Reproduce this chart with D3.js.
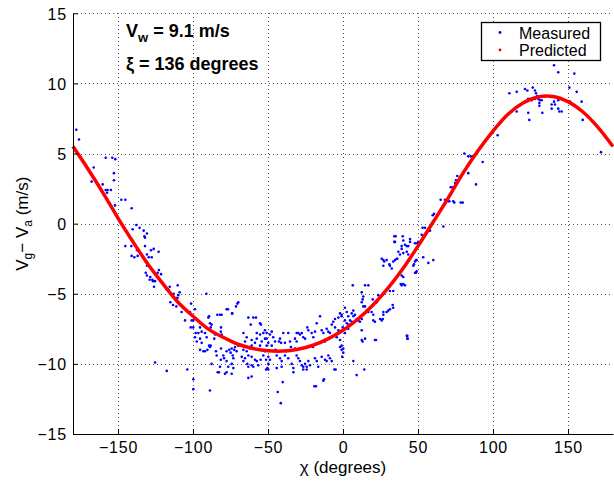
<!DOCTYPE html>
<html>
<head>
<meta charset="utf-8">
<script src="https://cdn.jsdelivr.net/npm/d3@7"></script>
<style>
  body { margin: 0; background: #fff; }
  text { font-family: "Liberation Sans", Arial, Helvetica, sans-serif; }
</style>
</head>
<body>
<div id="chart"></div>
<script>
const width = 614;
const height = 482;

const xTicks = [-150, -100, -50, 0, 50, 100, 150];
const yTicks = [-15, -10, -5, 0, 5, 10, 15];

// predicted curve, read every 10 degrees
const predictedChi = d3.range(-180, 181, 10);
const predictedDv = [5.5, 3.9, 2.2, 0.4, -1.3, -2.9, -4.3, -5.6, -6.6, -7.5, -8.1, -8.6, -8.9,
  -9.07, -9.09, -8.96, -8.67, -8.22, -7.6, -6.8, -5.8, -4.6, -3.2, -1.6, 0.1, 1.8, 3.6,
  5.2, 6.6, 7.8, 8.6, 9.03, 9.07, 8.7, 7.96, 6.87, 5.5];

// measured points [chi, Vg - Va]
const measured = [
  [-177.8,6.7],[-176,6.0],[-158.2,4.7],[-153.8,4.7],[-151.8,4.6],[-166.2,4.0],[-152.7,3.6],[-152.7,3.1],
  [-167.6,3.0],[-160.2,2.8],[-158.2,2.4],[-156.9,2.4],[-154.7,2.4],[-157.3,2.2],[-147.8,1.7],[-145.1,1.7],
  [-152,1.3],[-140.9,1.1],[-140.2,-0.4],[-137.8,-0.1],[-135.6,-0.3],[-132.9,-0.5],[-130.7,-0.7],[-132.4,-0.9],
  [-132,-1.0],[-145.1,-1.6],[-141.1,-1.6],[-138.9,-1.5],[-138.2,-1.6],[-132,-1.6],[-140.9,-2.3],[-139.1,-2.4],
  [-136.9,-2.3],[-137.3,-1.9],[-130.7,-2.2],[-129.5,-2.4],[-127.5,-2.4],[-128,-1.9],[-126.2,-1.8],[-122.9,-2.0],
  [-131.5,-2.7],[-130.7,-3.0],[-122.7,-3.3],[-123.5,-3.5],[-121.3,-3.6],[-131.5,-3.5],[-130.7,-3.7],[-128.5,-3.8],
  [-127.1,-4.0],[-128.9,-4.0],[-126.7,-4.1],[-125.3,-4.1],[-120.4,-4.2],[-126,-4.5],[-118.2,-4.5],[-115.5,-4.5],
  [-116.4,-4.7],[-110.2,-4.4],[-112.9,-5.0],[-108.9,-4.9],[-109.8,-5.1],[-110.7,-5.3],[-115.1,-5.6],[-113.3,-5.8],
  [-111.1,-5.9],[-101.3,-5.7],[-98.7,-6.1],
  [-117.5,-4.7],[-110.4,-5.3],[-107.6,-6.3],[-105.3,-6.9],[-102,-6.3],[-100.9,-6.9],[-99.8,-7.4],[-91.1,-5.0],
  [-89.8,-6.7],[-70.4,-5.7],[-71.3,-5.9],[-76.7,-6.1],[-74,-6.4],[-82,-6.5],[-63.1,-6.7],[-59.8,-6.7],[-58,-6.7],
  [-125.3,-9.9],[-117.5,-10.5],[-103.8,-10.4],[-99.8,-11.1],[-99.8,-11.8],[-88.7,-11.9],[-43.5,-12.0],[-41.5,-12.8],
  [-40.2,-11.3],[-63.1,-11.0],[-60.9,-10.9],[-49.8,-10.4],[-33.1,-10.6],[-19.1,-11.6],[-83.5,-10.6],
  [-69.8,-5.6],[-83.8,-6.5],[-80.9,-6.5],[-77.6,-6.1],[-73.8,-6.4],[-89.3,-6.6],[-88.7,-7.1],[-87.6,-7.2],
  [-88.2,-7.4],[-99.8,-6.9],[-101.5,-7.4],[-95.3,-7.4],[-98.2,-7.8],[-96.4,-7.8],[-94.2,-7.7],[-92,-7.8],
  [-90.9,-8.1],[-97.5,-8.4],[-95.3,-8.2],[-94.2,-8.5],[-98.7,-8.1],[-81.3,-7.4],[-81.5,-7.7],[-80.9,-7.9],
  [-85.3,-7.9],[-85.8,-8.2],[-89.3,-8.7],[-88.7,-8.8],[-88.2,-8.7],[-90.4,-9.0],[-95.3,-9.0],[-93.1,-9.1],
  [-92,-9.1],[-84.7,-9.1],[-81.3,-8.9],[-79.8,-9.4],[-79.3,-9.6],[-84.2,-9.4],[-81.5,-9.7],[-77.6,-9.1],
  [-75.8,-9.0],[-74.9,-9.2],[-74.2,-8.9],[-72,-8.8],[-72.5,-9.0],[-70.9,-9.1],[-73.5,-9.4],[-73.1,-9.6],
  [-77.6,-9.8],[-76.5,-10.2],[-74.2,-10.0],[-73.1,-10.3],[-82,-10.2],[-87.6,-10.0],[-82.7,-10.6],[-77.6,-10.6],
  [-78.7,-10.7],[-74.2,-10.7],[-69.8,-8.7],[-66.4,-7.8],[-65.3,-8.4],[-64.2,-8.1],[-61.5,-7.2],[-55.3,-7.1],
  [-54.7,-7.2],[-57.5,-7.8],[-55.3,-7.9],[-53.1,-7.8],[-50.9,-7.8],[-60.9,-8.3],[-57.5,-8.2],[-54.2,-8.4],
  [-52,-8.2],[-60.9,-8.7],[-58.7,-8.5],[-55.3,-8.7],[-50.9,-8.7],[-66.4,-9.0],[-64.2,-9.1],[-62,-8.9],
  [-67.5,-9.5],[-65.3,-9.6],[-63.1,-9.4],[-60.9,-9.5],[-58.7,-9.7],[-66.4,-9.8],[-63.8,-10.0],[-60.9,-10.1],
  [-57.5,-9.8],[-63.1,-10.2],[-59.8,-10.2],[-56.5,-10.1],[-53.1,-9.4],[-51.3,-9.7],[-50.4,-10.3],[-54.9,-9.7],
  [-52,-7.6],[-50.9,-8.2],[-48.7,-7.9],[-47.5,-7.7],[-46.5,-8.1],[-45.3,-8.4],[-49.8,-8.5],[-47.5,-8.7],
  [-42,-8.2],[-42.7,-8.4],[-41.3,-8.5],[-39.8,-7.8],[-38.7,-8.5],[-36.5,-7.8],[-35.3,-8.4],[-34.7,-8.8],
  [-30.9,-7.8],[-29.8,-7.8],[-28.7,-7.9],[-32,-8.2],[-30.9,-8.4],[-27.5,-7.8],[-26.5,-8.1],[-25.3,-8.2],
  [-23.8,-7.4],[-23.1,-7.6],[-20.9,-7.8],[-19.8,-8.1],[-17.5,-7.1],[-18.7,-7.7],[-15.3,-6.6],[-14.2,-7.6],
  [-13.1,-7.8],[-10.9,-7.5],[-9.8,-7.7],[-7.5,-7.2],[-6.5,-7.0],[-5.3,-6.8],[-3.1,-6.7],[-2,-6.4],[-0.9,-6.5],
  [-8.7,-7.8],[-4.2,-8.1],[-5.3,-7.4],[-3.1,-7.6],[-52,-9.1],[-49.8,-9.5],[-48.7,-9.7],[-44.2,-9.4],[-42,-9.6],
  [-40.9,-9.8],[-44.2,-10.3],[-40.9,-10.2],[-38.7,-9.4],[-36.5,-9.6],[-34.2,-10.0],[-33.1,-10.3],[-30.9,-9.4],
  [-29.8,-9.6],[-28.7,-9.8],[-27.5,-10.1],[-26.5,-10.2],[-25.3,-10.0],[-24.2,-10.2],[-23.1,-9.8],[-22,-10.1],
  [-26.5,-10.4],[-24.2,-10.4],[-18.7,-9.6],[-17.5,-9.8],[-16.5,-10.2],[-14.2,-9.5],[-12,-9.7],[-10.9,-9.8],
  [-9.8,-9.4],[-8.7,-9.6],[-7.5,-9.8],[-4.9,-10.4],[0.2,-8.9],[-0.5,-9.5],[-2,-8.3],[-0.9,-8.7],[-13.1,-11.2],
  [-49.8,-10.0],[-51.3,-10.4],[-45,-9.0],[-38,-9.1],[-32,-8.9],[-20,-8.8],[-15,-8.5],[-12,-8.4],
  [1.3,-6.0],[2.5,-6.3],[3.5,-6.6],[4.7,-6.9],[5.8,-7.0],[6.9,-6.6],[8,-6.5],[9.1,-6.8],[10.2,-6.9],[11.3,-7.0],
  [12.5,-6.8],[5.8,-6.4],[6.9,-6.2],[6.5,-4.4],[12.5,-4.9],[13.5,-5.2],[13.1,-5.4],[14.7,-4.4],[16.9,-4.4],
  [14.7,-5.9],[15.8,-6.2],[16.9,-6.3],[19.1,-6.3],[20.2,-6.5],[20.2,-6.9],[21.3,-7.0],[24.7,-6.8],[25.8,-6.9],
  [22.5,-5.6],[23.5,-5.1],[26.9,-6.3],[29.1,-6.3],[30.2,-6.2],[26.9,-6.5],[12.5,-8.3],[14.7,-8.2],[22,-8.3],
  [-2,-8.8],[-0.9,-9.0],[6.9,-9.8],[9.1,-10.8],[14.2,-10.4],[-5.8,-10.4],[-12.7,-11.1],[-18,-11.6],
  [42.9,-8.0],[42.9,-8.2],[33.1,-5.8],[33.5,-6.0],[31.3,-4.8],[39.1,-4.4],[41.3,-4.4],[38,-3.5],[39.1,-3.7],
  [40.2,-3.8],[40.2,-4.3],[38.5,-4.3],[48,-3.5],[49.1,-3.4],[46.9,-3.0],[48,-2.7],[49.1,-2.6],[25.8,-2.5],
  [26.9,-2.6],[29.1,-2.6],[31.3,-3.0],[32.5,-3.2],[33.5,-2.7],[34.7,-2.6],[35.8,-2.5],[36.9,-2.0],[38,-2.2],
  [40.2,-2.1],[42.5,-2.0],[43.5,-2.2],[39.1,-1.6],[41.3,-1.5],[43.5,-1.6],[34.7,-1.3],[40.2,-1.2],[44.7,-1.3],
  [48,-1.4],[50.2,-1.3],[53.5,-2.4],[56.9,-2.8],[60.2,-2.6],
  [59.8,0.6],[60.7,0.7],[53.1,-0.3],[54.7,-0.3],[56.9,-0.5],[58,-0.5],[52.5,-0.8],[34.2,-0.9],[39.8,-0.9],
  [34.2,-1.3],[42.5,-1.6],[39.1,-1.8],[49.5,-1.4],[48.7,-2.6],[47.3,-2.9],[27.5,-2.7],[26.9,-3.0],[30.9,-2.9],
  [36.2,-2.5],[48.7,-3.5],[33.5,-4.8],[19.8,-5.4],[13.5,-5.9],[12.5,-5.6],[31.3,-6.1],[26.5,-6.8],
  [-0.9,-6.6],[1.3,-6.9],[2.5,-7.1],[3.6,-7.2],[-0.2,-7.4],[1.3,-7.8],[3.5,-7.5],[0.2,-9.2],[12.5,-7.6],
  [13.1,-8.4],[21.3,-8.3],[42.5,-8.0],[43.1,-8.2],[44.7,-1.1],[66.9,-0.2],[35.1,-0.9],
  [65.1,1.7],[68,1.7],[70.2,1.6],[70.9,1.6],[73.5,1.6],[74.2,1.5],[78.5,1.5],[79.8,1.5],[71.8,2.6],[73.1,2.6],
  [74.7,2.9],[75.3,3.1],[76.2,3.4],[83.5,3.6],[88.7,2.8],[93.1,4.4],[80.9,5.0],[83.5,4.8],[85.1,4.8],[86.5,4.8],
  [103.1,6.3],[110.9,9.3],[115.8,9.4],[115.8,8.0],[121.3,9.6],[122.9,9.5],[123.5,7.9],[124.2,7.4],[126.5,9.7],
  [128,9.5],[128.7,9.3],[128,8.9],[123.5,8.9],[125.8,8.8],[130.2,8.9],[130.9,8.6],[130.9,8.4],[129.5,9.1],
  [131.3,8.8],[132.5,8.8],[132.9,7.9],[140.7,11.3],[143.5,10.8],[154.2,10.7],[139.1,8.5],[139.1,8.2],
  [140.7,8.7],[141.3,8.5],[143.5,8.8],[143.5,8.2],[144.2,8.0],[145.8,8.0],[150.9,9.7],[155.8,9.4],[151.3,8.7],
  [151.8,8.6],[159.1,8.7],[159.8,7.4],[172,5.1]
];

const x = d3.scaleLinear().domain([-180, 180]).range([73, 613]);
const y = d3.scaleLinear().domain([-15, 15]).range([434, 13.3]);

const svg = d3.select("#chart").append("svg")
    .attr("width", width)
    .attr("height", height);

// grid
const grid = svg.append("g")
    .attr("stroke", "#555")
    .attr("stroke-width", 1)
    .attr("stroke-dasharray", "1,3");
grid.selectAll(".gx")
    .data(xTicks)
  .enter().append("line")
    .attr("x1", d => Math.round(x(d)) + 0.5)
    .attr("x2", d => Math.round(x(d)) + 0.5)
    .attr("y1", y(-15))
    .attr("y2", y(15));
grid.selectAll(".gy")
    .data(yTicks.slice(1))
  .enter().append("line")
    .attr("x1", x(-180))
    .attr("x2", x(180))
    .attr("y1", d => Math.round(y(d)) + 0.5)
    .attr("y2", d => Math.round(y(d)) + 0.5);

// measured points
svg.append("g")
    .attr("fill", "#0000ff")
  .selectAll("circle")
    .data(measured)
  .enter().append("circle")
    .attr("cx", d => x(d[0]))
    .attr("cy", d => y(d[1]))
    .attr("r", 1.3);

// predicted curve
const line = d3.line()
    .x(d => x(d[0]))
    .y(d => y(d[1]))
    .curve(d3.curveCatmullRom);
svg.append("path")
    .datum(d3.zip(predictedChi, predictedDv))
    .attr("fill", "none")
    .attr("stroke", "#ff0000")
    .attr("stroke-width", 3.5)
    .attr("d", line);

// axes
const xAxis = svg.append("g")
    .attr("transform", "translate(0," + y(-15) + ")")
    .call(d3.axisBottom(x).tickValues(xTicks).tickSize(-5).tickPadding(8).tickSizeOuter(0));
const yAxis = svg.append("g")
    .attr("transform", "translate(" + x(-180) + ",0)")
    .call(d3.axisLeft(y).tickValues(yTicks).tickSize(-5).tickPadding(6).tickSizeOuter(0));
[xAxis, yAxis].forEach(a => {
  a.select(".domain").attr("stroke", "#000");
  a.selectAll("text")
      .style("font-size", "16px")
      .style("letter-spacing", "0.8px")
      .attr("fill", "#000");
});
yAxis.selectAll("text").attr("dy", "0.36em");
xAxis.selectAll("text").attr("dy", "0.71em");

// axis labels
svg.append("text")
    .attr("x", x(0))
    .attr("y", 473)
    .attr("text-anchor", "middle")
    .style("font-size", "17px")
    .text("χ (degrees)");

const yl = svg.append("text")
    .attr("transform", "translate(28," + y(0) + ")rotate(-90)")
    .attr("text-anchor", "middle")
    .style("font-size", "17px");
yl.append("tspan").text("V");
yl.append("tspan").attr("dy", 4).style("font-size", "12px").text("g");
yl.append("tspan").attr("dy", -4).text("− V");
yl.append("tspan").attr("dy", 4).style("font-size", "12px").text("a");
yl.append("tspan").attr("dy", -4).text(" (m/s)");

// annotations
const a1 = svg.append("text")
    .attr("x", 126)
    .attr("y", 37)
    .style("font-size", "18px")
    .style("font-weight", "bold");
a1.append("tspan").text("V");
a1.append("tspan").attr("dy", 5).style("font-size", "13px").text("w");
a1.append("tspan").attr("dy", -5).text(" = 9.1 m/s");

svg.append("text")
    .attr("x", 126)
    .attr("y", 70)
    .style("font-size", "18px")
    .style("font-weight", "bold")
    .text("ξ = 136 degrees");

// legend
const lg = svg.append("g");
lg.append("rect")
    .attr("x", 481.5)
    .attr("y", 22.5)
    .attr("width", 119)
    .attr("height", 38)
    .attr("fill", "#fff")
    .attr("stroke", "#000")
    .attr("stroke-width", 1.3);
const legendItems = [["Measured", "#0000ff"], ["Predicted", "#ff0000"]];
legendItems.forEach((item, i) => {
  lg.append("circle")
      .attr("cx", 500)
      .attr("cy", 32.5 + i * 17.5)
      .attr("r", 1.4)
      .attr("fill", item[1]);
  lg.append("text")
      .attr("x", 519)
      .attr("y", 38.5 + i * 17.5)
      .style("font-size", "16px")
      .text(item[0]);
});
</script>
</body>
</html>
